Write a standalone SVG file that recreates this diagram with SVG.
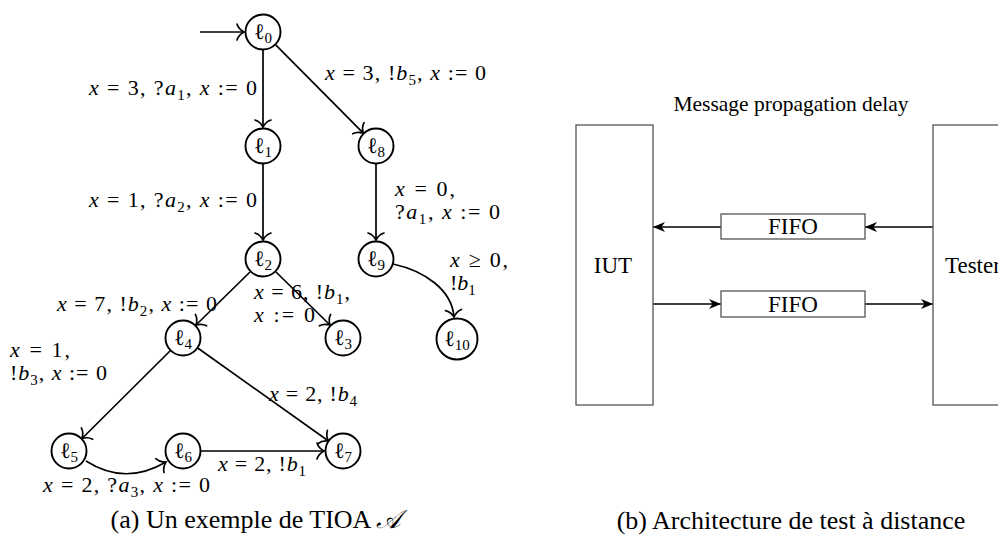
<svg xmlns="http://www.w3.org/2000/svg" width="998" height="538" viewBox="0 0 998 538">
<style>
text{font-family:"Liberation Serif","DejaVu Serif",serif;fill:#000}
.m{font-size:22px}
.i{font-style:italic}
.s{font-size:15px}
.n{font-size:22px}
.ns{font-size:15px}
.node circle{fill:#fff;stroke:#000;stroke-width:1.9}
.edge{fill:none;stroke:#000;stroke-width:1.7;marker-end:url(#to)}
.box{fill:#fff;stroke:#555;stroke-width:1.3}
.flow{fill:none;stroke:#000;stroke-width:1.5;marker-end:url(#tri)}
.cap{font-size:26px}
.lbl{font-size:23px}
</style>
<defs>
<marker id="to" markerUnits="userSpaceOnUse" viewBox="-10 -10 12 20" refX="0" refY="0" markerWidth="12" markerHeight="20" orient="auto">
<path d="M-7,-8 C-5.5,-3 -1.5,-0.8 0,0 C-1.5,0.8 -5.5,3 -7,8" fill="none" stroke="#000" stroke-width="1.7" stroke-linecap="round"/>
</marker>
<marker id="tri" markerUnits="userSpaceOnUse" viewBox="-13 -6 14 12" refX="0" refY="0" markerWidth="14" markerHeight="12" orient="auto">
<path d="M0,0 L-12,-5 L-8.5,0 L-12,5 Z" fill="#000"/>
</marker>
</defs>

<g id="connectors">
<path class="edge" d="M200,32 L244,32"/>
<path class="edge" d="M263,50 L263,127"/>
<path class="edge" d="M275.7,44.8 L363.3,133.2"/>
<path class="edge" d="M263,164 L263,240"/>
<path class="edge" d="M376,164 L376,240"/>
<path class="edge" d="M250,272 L196,325"/>
<path class="edge" d="M276,272 L330,325"/>
<path class="edge" d="M170.5,350.5 L82,438.5"/>
<path class="edge" d="M197.7,348 L328.5,441"/>
<path class="edge" d="M201,451 L324,451"/>
<path class="edge" d="M393,264 C425,271 452,290 454,317"/>
<path class="edge" d="M86,461 Q125,486 166,462"/>
<path class="flow" d="M933,227 L865,227"/>
<path class="flow" d="M721,227 L653,227"/>
<path class="flow" d="M653,304 L721,304"/>
<path class="flow" d="M865,304 L933,304"/>
</g>

<g id="edge-labels">
<text class="m" x="89" y="95" textLength="168"><tspan class="i">x</tspan> = 3, ?<tspan class="i">a</tspan><tspan class="s" dy="5">1</tspan><tspan dy="-5">, </tspan><tspan class="i">x</tspan> := 0</text>
<text class="m" x="325" y="80" textLength="161"><tspan class="i">x</tspan> = 3, !<tspan class="i">b</tspan><tspan class="s" dy="5">5</tspan><tspan dy="-5">, </tspan><tspan class="i">x</tspan> := 0</text>
<text class="m" x="89" y="207" textLength="168"><tspan class="i">x</tspan> = 1, ?<tspan class="i">a</tspan><tspan class="s" dy="5">2</tspan><tspan dy="-5">, </tspan><tspan class="i">x</tspan> := 0</text>
<text class="m" x="395" y="196" textLength="60"><tspan class="i">x</tspan> = 0,</text>
<text class="m" x="395" y="219" textLength="105">?<tspan class="i">a</tspan><tspan class="s" dy="5">1</tspan><tspan dy="-5">, </tspan><tspan class="i">x</tspan> := 0</text>
<text class="m" x="450" y="267" textLength="58"><tspan class="i">x</tspan> ≥ 0,</text>
<text class="m" x="450" y="290">!<tspan class="i">b</tspan><tspan class="s" dy="5">1</tspan></text>
<text class="m" x="57" y="311" textLength="160"><tspan class="i">x</tspan> = 7, !<tspan class="i">b</tspan><tspan class="s" dy="5">2</tspan><tspan dy="-5">, </tspan><tspan class="i">x</tspan> := 0</text>
<text class="m" x="254" y="299" textLength="96"><tspan class="i">x</tspan> = 6, !<tspan class="i">b</tspan><tspan class="s" dy="5">1</tspan><tspan dy="-5">,</tspan></text>
<text class="m" x="254" y="322" textLength="61"><tspan class="i">x</tspan> := 0</text>
<text class="m" x="10" y="357" textLength="60"><tspan class="i">x</tspan> = 1,</text>
<text class="m" x="10" y="380" textLength="97">!<tspan class="i">b</tspan><tspan class="s" dy="5">3</tspan><tspan dy="-5">, </tspan><tspan class="i">x</tspan> := 0</text>
<text class="m" x="269" y="401" textLength="88"><tspan class="i">x</tspan> = 2, !<tspan class="i">b</tspan><tspan class="s" dy="5">4</tspan></text>
<text class="m" x="218" y="471" textLength="88"><tspan class="i">x</tspan> = 2, !<tspan class="i">b</tspan><tspan class="s" dy="5">1</tspan></text>
<text class="m" x="43" y="492" textLength="167"><tspan class="i">x</tspan> = 2, ?<tspan class="i">a</tspan><tspan class="s" dy="5">3</tspan><tspan dy="-5">, </tspan><tspan class="i">x</tspan> := 0</text>
</g>

<g id="l0" class="node"><circle cx="263" cy="32" r="17.5"/><text class="n" x="263" y="39" text-anchor="middle">ℓ<tspan class="ns" dy="4">0</tspan></text></g>
<g id="l1" class="node"><circle cx="263" cy="146" r="17.5"/><text class="n" x="263" y="153" text-anchor="middle">ℓ<tspan class="ns" dy="4">1</tspan></text></g>
<g id="l8" class="node"><circle cx="376" cy="146" r="17.5"/><text class="n" x="376" y="153" text-anchor="middle">ℓ<tspan class="ns" dy="4">8</tspan></text></g>
<g id="l2" class="node"><circle cx="263" cy="259" r="17.5"/><text class="n" x="263" y="266" text-anchor="middle">ℓ<tspan class="ns" dy="4">2</tspan></text></g>
<g id="l9" class="node"><circle cx="376" cy="259" r="17.5"/><text class="n" x="376" y="266" text-anchor="middle">ℓ<tspan class="ns" dy="4">9</tspan></text></g>
<g id="l4" class="node"><circle cx="183" cy="338" r="17.5"/><text class="n" x="183" y="345" text-anchor="middle">ℓ<tspan class="ns" dy="4">4</tspan></text></g>
<g id="l3" class="node"><circle cx="343" cy="338" r="17.5"/><text class="n" x="343" y="345" text-anchor="middle">ℓ<tspan class="ns" dy="4">3</tspan></text></g>
<g id="l10" class="node"><circle cx="457" cy="339" r="20.5"/><text class="n" x="457" y="346" text-anchor="middle">ℓ<tspan class="ns" dy="4">10</tspan></text></g>
<g id="l5" class="node"><circle cx="69" cy="451" r="17.5"/><text class="n" x="69" y="458" text-anchor="middle">ℓ<tspan class="ns" dy="4">5</tspan></text></g>
<g id="l6" class="node"><circle cx="183" cy="451" r="17.5"/><text class="n" x="183" y="458" text-anchor="middle">ℓ<tspan class="ns" dy="4">6</tspan></text></g>
<g id="l7" class="node"><circle cx="343" cy="451" r="17.5"/><text class="n" x="343" y="458" text-anchor="middle">ℓ<tspan class="ns" dy="4">7</tspan></text></g>

<text class="cap" x="256" y="528" text-anchor="middle">(a) Un exemple de TIOA <tspan class="i" font-family="'DejaVu Serif','Liberation Serif',serif">𝒜</tspan></text>

<text id="delay" x="791" y="111" text-anchor="middle" font-size="21.5">Message propagation delay</text>
<g id="iut"><rect class="box" x="576" y="125" width="77" height="280"/><text class="lbl" x="613" y="273" text-anchor="middle">IUT</text></g>
<g id="tester"><rect class="box" x="933" y="125" width="100" height="280"/><text class="lbl" x="945" y="273">Tester</text></g>
<g id="fifo-top"><rect class="box" x="721" y="214" width="144" height="25"/><text class="lbl" x="793" y="234" text-anchor="middle">FIFO</text></g>
<g id="fifo-bottom"><rect class="box" x="721" y="291" width="144" height="26"/><text class="lbl" x="793" y="312" text-anchor="middle">FIFO</text></g>

<text class="cap" x="791" y="529" text-anchor="middle">(b) Architecture de test à distance</text>
</svg>
